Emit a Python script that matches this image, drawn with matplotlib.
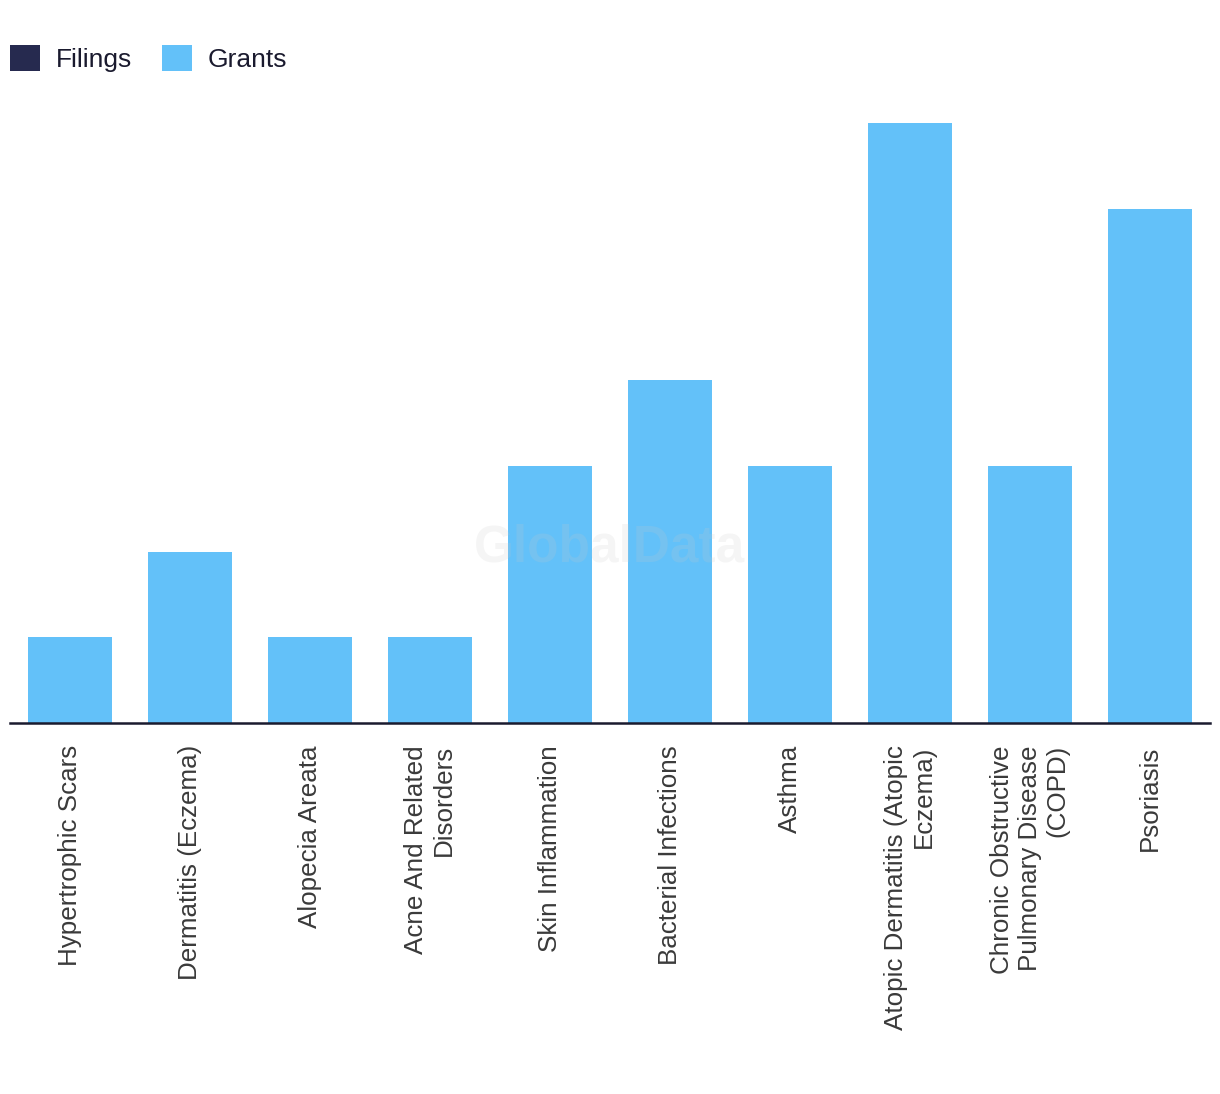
import matplotlib
matplotlib.use("Agg")
import matplotlib.pyplot as plt
from matplotlib.patches import Patch

categories = [
    "Hypertrophic Scars",
    "Dermatitis (Eczema)",
    "Alopecia Areata",
    "Acne And Related\nDisorders",
    "Skin Inflammation",
    "Bacterial Infections",
    "Asthma",
    "Atopic Dermatitis (Atopic\nEczema)",
    "Chronic Obstructive\nPulmonary Disease\n(COPD)",
    "Psoriasis",
]
filings = [0, 0, 0, 0, 0, 0, 0, 0, 0, 0]
grants = [1, 2, 1, 1, 3, 4, 3, 7, 3, 6]

FILING_COLOR = "#262a4f"
GRANT_COLOR = "#63c1f9"

plt.rcParams['font.family'] = ['Liberation Sans', 'DejaVu Sans']

fig = plt.figure(figsize=(12.2, 10.94), dpi=100)
W, H = 1220, 1094
ax = fig.add_axes([10 / W, 1 - 723 / H, 1200 / W, (723 - 95) / H])

x = list(range(len(categories)))
ax.bar(x, grants, width=0.7, color=GRANT_COLOR, zorder=2)

ax.set_xlim(-0.5, len(categories) - 0.5)
ax.set_ylim(0, 628 / 85.7)

for s in ["top", "right", "left"]:
    ax.spines[s].set_visible(False)
ax.spines["bottom"].set_color("#1a1a2e")
ax.spines["bottom"].set_linewidth(1.8)
ax.set_yticks([])
ax.set_xticks(x)
ax.set_xticklabels(categories, rotation=90, fontsize=18.7, color="#3a3a3a",
                   ha="center", va="top", multialignment="right")
ax.tick_params(axis="x", length=0, pad=16)

fig.text(610 / W, 1 - 548 / H, "GlobalData", fontsize=37, fontweight="bold",
         color="#c8c8c8", ha="center", va="center", alpha=0.18, zorder=5)

handles = [Patch(facecolor=FILING_COLOR, label="Filings"),
           Patch(facecolor=GRANT_COLOR, label="Grants")]
fig.legend(handles=handles, loc="upper left", bbox_to_anchor=(10 / W, 1 - 45 / H),
           ncol=2, frameon=False, fontsize=19, handlelength=1.12,
           handleheight=1.12, handletextpad=0.6, columnspacing=1.15,
           borderpad=0, borderaxespad=0, labelcolor="#1a1a2e")

fig.savefig("out.png", dpi=100, facecolor="white")
